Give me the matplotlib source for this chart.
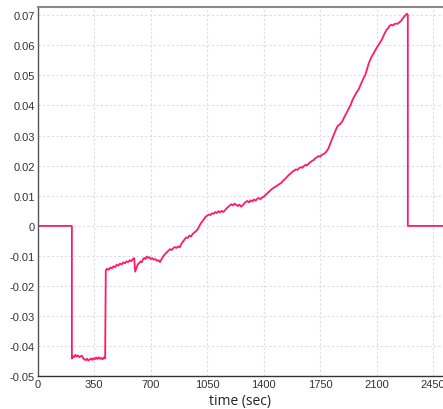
import matplotlib
matplotlib.use("Agg")
import matplotlib.pyplot as plt
from matplotlib.ticker import FixedLocator

# ---- data ----
time_sec = [0, 212,
            212, 218, 226, 234, 242, 250, 258, 266, 274, 282, 290, 298, 306, 314, 322, 330,
            338, 346, 354, 362, 370, 378, 386, 394, 402, 410, 418,
            422, 430, 440, 450, 460, 470, 480, 490, 500, 510, 520, 530, 540, 550, 560, 570,
            580, 590, 598, 604, 612, 620, 628, 636, 644, 652, 660, 668, 676, 684, 692, 700,
            710, 720, 730, 740, 750, 758, 766, 774, 782, 790, 800, 810, 820, 830, 840, 850,
            860, 870, 880, 890, 900, 910, 920, 930, 940, 950, 960, 970, 980, 990, 1000, 1010,
            1020, 1030, 1040, 1050, 1060, 1070, 1080, 1090, 1100, 1110, 1120, 1130, 1140,
            1150, 1160, 1170, 1180, 1190, 1200, 1210, 1220, 1230, 1240, 1250, 1260, 1270,
            1280, 1290, 1300, 1310, 1320, 1330, 1340, 1350, 1360, 1370, 1380, 1390, 1400,
            1410, 1420, 1430, 1440, 1450, 1460, 1470, 1480, 1490, 1500, 1510, 1520, 1530,
            1540, 1550, 1560, 1570, 1580, 1590, 1600, 1610, 1620, 1630, 1640, 1650, 1660,
            1670, 1680, 1690, 1700, 1710, 1720, 1730, 1740, 1750, 1760, 1770, 1780, 1790,
            1800, 1810, 1820, 1830, 1840, 1850, 1860, 1870, 1880, 1890, 1900, 1910, 1920,
            1930, 1940, 1950, 1960, 1970, 1980, 1990, 2000, 2010, 2020, 2030, 2040, 2050,
            2060, 2070, 2080, 2090, 2100, 2110, 2120, 2130, 2140, 2150, 2160, 2170, 2180,
            2190, 2200, 2210, 2220, 2230, 2240, 2250, 2260, 2270, 2280, 2287, 2293,
            2293, 2520]
value = [0.0, 0.0,
         -0.0440, -0.0432, -0.0436, -0.0428, -0.0434, -0.0430, -0.0436, -0.0433, -0.0431,
         -0.0440, -0.0443, -0.0446, -0.0441, -0.0447, -0.0444, -0.0440, -0.0445, -0.0439,
         -0.0443, -0.0437, -0.0442, -0.0436, -0.0441, -0.0438, -0.0443, -0.0437, -0.0440,
         -0.0148, -0.0142, -0.0146, -0.0138, -0.0141, -0.0134, -0.0137, -0.0129, -0.0132,
         -0.0125, -0.0128, -0.0121, -0.0124, -0.0118, -0.0120, -0.0114, -0.0117, -0.0110,
         -0.0107, -0.0152, -0.0140, -0.0128, -0.0124, -0.0118, -0.0121, -0.0112, -0.0106,
         -0.0110, -0.0102, -0.0106, -0.0104, -0.0110, -0.0107, -0.0112, -0.0110, -0.0116,
         -0.0114, -0.0120, -0.0112, -0.0104, -0.0098, -0.0093, -0.0088, -0.0082, -0.0077,
         -0.0080, -0.0074, -0.0070, -0.0073, -0.0068, -0.0071, -0.0060, -0.0052, -0.0045,
         -0.0038, -0.0040, -0.0032, -0.0035, -0.0027, -0.0022, -0.0018, -0.0012, -0.0002,
         0.0008, 0.0015, 0.0022, 0.0030, 0.0034, 0.0038, 0.0036, 0.0042, 0.0040, 0.0046,
         0.0043, 0.0049, 0.0045, 0.0050, 0.0046, 0.0052, 0.0058, 0.0063, 0.0068, 0.0072,
         0.0068, 0.0074, 0.0070, 0.0066, 0.0071, 0.0064, 0.0068, 0.0075, 0.0080, 0.0083,
         0.0078, 0.0085, 0.0081, 0.0088, 0.0084, 0.0090, 0.0093, 0.0089, 0.0094, 0.0097,
         0.0102, 0.0107, 0.0112, 0.0117, 0.0122, 0.0126, 0.0129, 0.0133, 0.0136, 0.0140,
         0.0143, 0.0150, 0.0155, 0.0160, 0.0166, 0.0171, 0.0175, 0.0181, 0.0184, 0.0188,
         0.0186, 0.0192, 0.0195, 0.0193, 0.0199, 0.0203, 0.0201, 0.0208, 0.0212, 0.0216,
         0.0219, 0.0225, 0.0228, 0.0232, 0.0230, 0.0236, 0.0238, 0.0242, 0.0248, 0.0256,
         0.0270, 0.0284, 0.0297, 0.0310, 0.0323, 0.0333, 0.0336, 0.0342, 0.0350, 0.0362,
         0.0372, 0.0382, 0.0393, 0.0403, 0.0418, 0.0428, 0.0438, 0.0447, 0.0455, 0.0468,
         0.0480, 0.0492, 0.0502, 0.0520, 0.0538, 0.0552, 0.0563, 0.0572, 0.0582, 0.0591,
         0.0600, 0.0608, 0.0617, 0.0628, 0.0640, 0.0650, 0.0656, 0.0664, 0.0668, 0.0666,
         0.0670, 0.0672, 0.0671, 0.0676, 0.0680, 0.0688, 0.0695, 0.0700, 0.0705, 0.0700,
         0.0, 0.0]

x_ticks = [0, 350, 700, 1050, 1400, 1750, 2100, 2450]
y_ticks = [-0.05, -0.04, -0.03, -0.02, -0.01, 0, 0.01, 0.02, 0.03, 0.04, 0.05, 0.06, 0.07]
y_tick_labels = ["-0.05", "-0.04", "-0.03", "-0.02", "-0.01", "0", "0.01", "0.02",
                 "0.03", "0.04", "0.05", "0.06", "0.07"]
x_label = "time (sec)"

plt.rcParams["font.family"] = ["Liberation Sans", "DejaVu Sans"]

# ---- figure ----
fig = plt.figure(figsize=(4.43, 4.10), dpi=100)
ax = fig.add_axes([0.085, 0.0793, 0.915, 0.9012])

ax.plot(time_sec, value, color="#ff1a66", linewidth=1.3)

ax.set_xlim(0, 2511)
ax.set_ylim(-0.05, 0.0727)
ax.xaxis.set_major_locator(FixedLocator(x_ticks))
ax.set_xticklabels([str(v) for v in x_ticks])
ax.yaxis.set_major_locator(FixedLocator(y_ticks))
ax.set_yticklabels(y_tick_labels)

ax.grid(True, color="#dddddd", linestyle=(0, (2, 2)), linewidth=0.8)
ax.set_axisbelow(True)

ax.tick_params(axis="both", length=0, labelsize=8, labelcolor="#333333", pad=2)
ax.spines["right"].set_visible(False)
ax.spines["left"].set_color("#555555")
ax.spines["bottom"].set_color("#333333")
ax.spines["top"].set_color("#888888")
ax.spines["top"].set_linewidth(1.5)
ax.spines["left"].set_linewidth(1.0)
ax.spines["bottom"].set_linewidth(1.0)

ax.set_xlabel(x_label, fontsize=10, color="#222222", labelpad=3,
              family=["Open Sans", "DejaVu Sans"])

fig.savefig("out.png", dpi=100)
